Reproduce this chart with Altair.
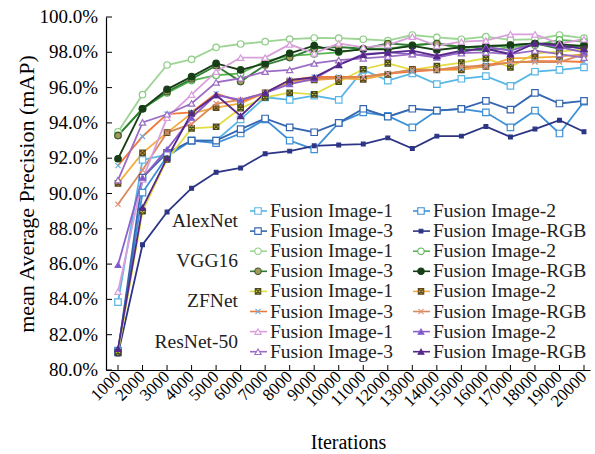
import altair as alt
import pandas as pd

# ---------------------------------------------------------------- data
iterations = list(range(1000, 20001, 1000))

networks = ["AlexNet", "VGG16", "ZFNet", "ResNet-50"]
inputs = ["Fusion Image-1", "Fusion Image-2", "Fusion Image-3", "Fusion Image-RGB"]

alexnet_fi1 = [83.85, 91.9, 92.2, 93.0, 93.0, 94.2, 95.45, 95.3, 95.55, 95.3,
               97.0, 96.4, 96.8, 96.2, 96.5, 96.65, 96.1, 96.9, 97.0, 97.15]
alexnet_fi2 = [81.1, 90.05, 92.1, 93.0, 92.85, 93.4, 94.2, 93.0, 92.5, 94.0,
               94.6, 94.4, 93.75, 94.7, 94.8, 94.6, 93.75, 94.7, 93.4, 95.2]
alexnet_fi3 = [81.0, 90.9, 92.3, 93.0, 93.0, 93.65, 94.25, 93.75, 93.47, 94.0,
               94.8, 94.35, 94.8, 94.7, 94.8, 95.25, 94.75, 95.7, 95.1, 95.25]
alexnet_rgb = [80.9, 87.1, 88.95, 90.3, 91.2, 91.45, 92.25, 92.4, 92.7, 92.75,
               92.8, 93.15, 92.55, 93.25, 93.25, 93.8, 93.2, 93.65, 94.15, 93.5]

vgg16_fi1 = [93.5, 95.6, 97.28, 97.6, 98.28, 98.47, 98.6, 98.75, 98.81, 98.8,
             98.74, 98.66, 98.98, 98.85, 98.74, 98.89, 98.7, 98.74, 98.98, 98.8]
vgg16_fi2 = [93.3, 94.8, 95.7, 96.4, 96.7, 96.8, 97.5, 97.8, 97.9, 98.0,
             98.2, 98.2, 98.4, 98.5, 98.2, 98.1, 98.3, 98.4, 98.7, 98.6]
vgg16_fi3 = [93.28, 94.8, 95.77, 96.49, 97.24, 96.34, 97.28, 97.7, 98.22, 98.3,
             98.2, 98.5, 98.4, 98.5, 98.3, 98.3, 98.4, 98.5, 98.2, 98.4]
vgg16_rgb = [91.97, 94.8, 95.9, 96.62, 97.37, 97.0, 97.37, 97.94, 98.38, 98.04,
             98.17, 98.17, 98.36, 98.13, 98.28, 98.36, 98.41, 98.5, 98.45, 98.36]

zfnet_fi1 = [81.0, 89.0, 91.93, 93.69, 93.78, 94.83, 95.45, 95.71, 95.62, 96.34,
             97.04, 97.37, 97.0, 97.22, 97.41, 97.66, 97.15, 97.94, 98.04, 98.17]
zfnet_fi2 = [90.57, 92.3, 93.45, 94.54, 94.86, 95.1, 95.71, 96.34, 96.43, 96.53,
             96.47, 96.75, 97.04, 97.0, 97.0, 97.2, 97.66, 97.7, 97.76, 97.9]
zfnet_fi3 = [91.58, 93.23, 94.5, 94.6, 95.66, 95.2, 95.68, 96.43, 96.6, 96.6,
             96.6, 96.8, 96.9, 97.0, 97.1, 97.3, 97.4, 97.5, 97.5, 97.45]
zfnet_rgb = [89.39, 91.33, 93.45, 93.94, 95.1, 95.3, 95.7, 96.4, 96.5, 96.55,
             96.6, 96.8, 97.0, 97.0, 97.2, 97.2, 97.45, 97.45, 97.45, 97.9]

resnet_fi1 = [84.44, 90.8, 94.3, 95.6, 96.9, 97.7, 97.7, 98.45, 97.94, 98.5,
              98.28, 98.41, 98.89, 98.36, 98.6, 98.66, 99.02, 99.02, 98.5, 98.74]
resnet_fi2 = [85.95, 90.9, 92.5, 94.3, 95.58, 95.3, 95.7, 96.2, 96.5, 97.3,
              97.9, 98.0, 97.9, 97.7, 98.0, 98.3, 98.1, 98.5, 98.3, 98.0]
resnet_fi3 = [90.76, 94.03, 94.49, 95.1, 96.3, 96.53, 96.9, 97.0, 97.37, 97.56,
              97.66, 97.76, 97.9, 97.8, 97.95, 98.0, 97.9, 98.1, 97.9, 97.7]
resnet_rgb = [81.2, 89.2, 92.0, 94.56, 95.58, 94.39, 95.71, 96.43, 96.58, 97.28,
              97.85, 97.98, 98.1, 97.8, 98.1, 98.2, 97.9, 98.5, 98.4, 98.2]

series_values = [
    alexnet_fi1, alexnet_fi2, alexnet_fi3, alexnet_rgb,
    vgg16_fi1, vgg16_fi2, vgg16_fi3, vgg16_rgb,
    zfnet_fi1, zfnet_fi2, zfnet_fi3, zfnet_rgb,
    resnet_fi1, resnet_fi2, resnet_fi3, resnet_rgb,
]

y_ticks = list(range(80, 101, 2))

# ---------------------------------------------------------------- styles
BOXX = "M-1,-1H1V1H-1Z M-1,-1L1,1 M-1,1L1,-1"   # square with a cross
XMARK = "M-1,-1L1,1 M-1,1L1,-1"                  # diagonal cross

# (line colour, marker shape, marker fill, marker stroke, marker size)
styles = [
    ("#58b6e6", "square", "white", "#58b6e6", 42),
    ("#3d8fd6", "square", "white", "#3d8fd6", 42),
    ("#3566b0", "square", "white", "#3566b0", 42),
    ("#2c3585", "square", "#2c3585", "#2c3585", 14),
    ("#9ed595", "circle", "white", "#8ccc84", 42),
    ("#58b552", "circle", "white", "#58b552", 42),
    ("#2f7d32", "circle", "#a39a5c", "#3d5a2d", 42),
    ("#173f17", "circle", "#173f17", "#173f17", 42),
    ("#e3dc45", BOXX, "#c9c23a", "#4a4a20", 30),
    ("#f2ac3c", BOXX, "#d6a040", "#5a4a20", 30),
    ("#f2783a", XMARK, "none", "#6fb0e0", 26),
    ("#d9895a", XMARK, "none", "#e0907a", 26),
    ("#d99edb", "triangle-up", "white", "#d99edb", 40),
    ("#8d5fc9", "triangle-up", "#6a5acd", "#8d5fc9", 34),
    ("#9b6cc4", "triangle-up", "white", "#9b6cc4", 40),
    ("#55288a", "triangle-up", "#55288a", "#55288a", 34),
]

FONT = "Liberation Serif"

# ---------------------------------------------------------------- layout
W, H = 484, 353
PAD = {"left": 106, "top": 17, "right": 5, "bottom": 84}
STEP = (W - 18) / 19.0                 # pixels per 1000 iterations
X_LO = 1000 - 12 / STEP * 1000
X_HI = 20000 + 6 / STEP * 1000
Y_LO, Y_HI = 80, 100


def xd(px):
    """pixel offset inside the plot -> iteration units"""
    return X_LO + px / W * (X_HI - X_LO)


def yd(py):
    """pixel offset from the plot top -> percentage units"""
    return Y_HI - py / H * (Y_HI - Y_LO)


# ---------------------------------------------------------------- tables
rows = []
for k, vals in enumerate(series_values):
    net = networks[k // 4]
    inp = inputs[k % 4]
    line_c, shp, fill_c, stroke_c, size = styles[k]
    for it, v in zip(iterations, vals):
        rows.append(dict(series=f"{net} {inp}", order=k, it=it, v=v,
                         line=line_c, shape=shp, fill=fill_c,
                         stroke=stroke_c, size=size))
df = pd.DataFrame(rows)

leg_rows = []
ROW0, ROWSTEP = 194, 20.1
for k in range(16):
    r, c = k // 2, k % 2
    line_c, shp, fill_c, stroke_c, size = styles[k]
    sym_px = (152 if c == 0 else 315)
    leg_rows.append(dict(
        x1=xd(sym_px - 8), x2=xd(sym_px + 9), xs=xd(sym_px), xt=xd(sym_px + 12),
        y=yd(ROW0 + r * ROWSTEP), label=inputs[k % 4], order=k,
        line=line_c, shape=shp, fill=fill_c, stroke=stroke_c, size=size))
leg = pd.DataFrame(leg_rows)

grp = pd.DataFrame(dict(
    name=networks,
    x=[xd(132)] * 4,
    y=[yd(ROW0 + (2 * g + 0.5) * ROWSTEP) for g in range(4)],
))

xt_df = pd.DataFrame(dict(it=iterations, lab=[str(i) for i in iterations]))
yt_df = pd.DataFrame(dict(v=y_ticks, lab=[f"{v:.1f}%" for v in y_ticks]))

# ---------------------------------------------------------------- scales / axes
x_scale = alt.Scale(domain=[X_LO, X_HI], nice=False, zero=False)
y_scale = alt.Scale(domain=[Y_LO, Y_HI], nice=False, zero=False)

x_axis = alt.Axis(
    title="Iterations", values=iterations, ticks=False, grid=False, labels=False,
    titleFont=FONT, titleFontSize=20, titleFontWeight="normal", titleColor="black",
    titlePadding=62, domainColor="black", domainWidth=1.2,
)
y_axis = alt.Axis(
    title="mean Average Precision (mAP)", values=y_ticks, ticks=False, grid=False,
    labels=False,
    titleFont=FONT, titleFontSize=22, titleFontWeight="normal", titleColor="black",
    titlePadding=68, domainColor="black", domainWidth=1.2,
)

X = alt.X("it:Q", scale=x_scale, axis=x_axis)
Y = alt.Y("v:Q", scale=y_scale, axis=y_axis)

lines = alt.Chart(df).mark_line(strokeWidth=1.8).encode(
    x=X, y=Y,
    detail="series:N",
    stroke=alt.Stroke("line:N", scale=None),
    order="it:Q",
)

points = alt.Chart(df).mark_point(filled=True, opacity=1, strokeWidth=1.2).encode(
    x="it:Q", y="v:Q",
    shape=alt.Shape("shape:N", scale=None),
    fill=alt.Fill("fill:N", scale=None),
    stroke=alt.Stroke("stroke:N", scale=None),
    size=alt.Size("size:Q", scale=None),
)

# inward tick marks and tick labels
x_ticks = alt.Chart(xt_df).mark_rule(color="black", strokeWidth=1).encode(
    x="it:Q", y=alt.value(H), y2=alt.value(H - 5))
y_ticks_m = alt.Chart(yt_df).mark_rule(color="black", strokeWidth=1).encode(
    y="v:Q", x=alt.value(0), x2=alt.value(6))
x_labels = alt.Chart(xt_df).mark_text(
    angle=315, align="right", baseline="middle", font=FONT, fontSize=17,
    color="black", dx=2, dy=-2,
).encode(x="it:Q", y=alt.value(H + 7), text="lab:N")
y_labels = alt.Chart(yt_df).mark_text(
    align="right", baseline="middle", font=FONT, fontSize=19, color="black",
).encode(y="v:Q", x=alt.value(-8), text="lab:N")

# legend block
leg_lines = alt.Chart(leg).mark_rule(strokeWidth=1.6).encode(
    x="x1:Q", x2="x2:Q", y="y:Q", stroke=alt.Stroke("line:N", scale=None))
leg_pts = alt.Chart(leg).mark_point(filled=True, opacity=1, strokeWidth=1.1).encode(
    x="xs:Q", y="y:Q",
    shape=alt.Shape("shape:N", scale=None),
    fill=alt.Fill("fill:N", scale=None),
    stroke=alt.Stroke("stroke:N", scale=None),
    size=alt.Size("size:Q", scale=None),
)
leg_txt = alt.Chart(leg).mark_text(
    align="left", baseline="middle", font=FONT, fontSize=19.5, color="#222"
).encode(x="xt:Q", y="y:Q", text="label:N")
grp_txt = alt.Chart(grp).mark_text(
    align="right", baseline="middle", font=FONT, fontSize=19.5, color="#222"
).encode(x="x:Q", y="y:Q", text="name:N")

chart = alt.layer(
    lines, points, x_ticks, y_ticks_m, x_labels, y_labels,
    leg_lines, leg_pts, leg_txt, grp_txt
).properties(
    width=W, height=H,
    autosize=alt.AutoSizeParams(type="none"),
    padding=PAD,
    background="white",
).configure_view(stroke=None)

chart.save("out.html", embed_options={"renderer": "svg", "actions": False})
